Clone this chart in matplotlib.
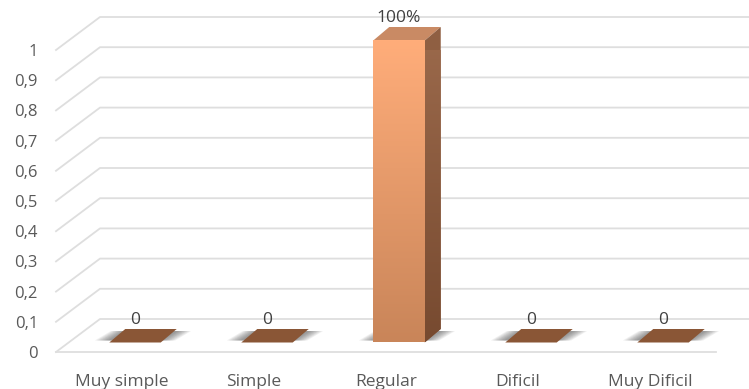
import matplotlib
matplotlib.use("Agg")
import matplotlib.pyplot as plt
import matplotlib.transforms as mtrans
from matplotlib.colors import LinearSegmentedColormap
import numpy as np

plt.rcParams['font.family'] = ['Open Sans', 'DejaVu Sans']

# data
categories = ["Muy simple", "Simple", "Regular", "Dificil", "Muy Dificil"]
values = [0, 0, 1, 0, 0]
value_labels = ["0", "0", "100%", "0", "0"]
y_ticks = [0, 0.1, 0.2, 0.3, 0.4, 0.5, 0.6, 0.7, 0.8, 0.9, 1]
y_tick_labels = ["0", "0,1", "0,2", "0,3", "0,4", "0,5", "0,6", "0,7", "0,8", "0,9", "1"]

W, H = 749, 389
fig = plt.figure(figsize=(W / 100, H / 100), dpi=100)
# front plane of the 3D box
ax = fig.add_axes([56 / W, (H - 352) / H, 660 / W, 302 / H])
ax.set_xlim(-0.5, 4.5)
ax.set_ylim(0, 1)


def shifted(dx, dy):
    # same data scale, moved back into the fake depth (pixels)
    return ax.transData + mtrans.Affine2D().translate(dx, dy)


back = shifted(44, 33)
bar_front = shifted(13, 9.5)
bar_back = shifted(29, 23)
grid_col = "#dedede"

# gridlines: diagonal on the left wall + horizontal on the back wall
for v in y_ticks:
    p0 = ax.transData.transform((-0.5, v))
    p1 = back.transform((-0.5, v))
    p2 = (W + 5, p1[1])
    ax.plot([p0[0], p1[0], p2[0]], [p0[1], p1[1], p2[1]], color=grid_col, lw=1.3,
            transform=None, clip_on=False, zorder=1)
ax.plot([-0.5, 4.5], [0, 0], color=grid_col, lw=1.3, clip_on=False, zorder=1)

width = 0.39
for i, v in enumerate(values):
    x0, x1 = i - width / 2, i + width / 2

    # soft shadow on the floor
    for grow in np.linspace(0.01, 0.11, 10):
        a = bar_front.transform((x0 - grow, 0))
        b = bar_front.transform((x1 + grow, 0))
        c = bar_back.transform((x1 + grow, 0))
        d = bar_back.transform((x0 - grow, 0))
        ax.fill([a[0], b[0], c[0], d[0]], [a[1] + 2, b[1] + 2, c[1] - 2, d[1] - 2], color="#444444",
                alpha=0.07, lw=0, transform=None, clip_on=False, zorder=2)

    if v == 0:
        a = bar_front.transform((x0, 0))
        b = bar_front.transform((x1, 0))
        c = bar_back.transform((x1, 0))
        d = bar_back.transform((x0, 0))
        ax.fill([a[0], b[0], c[0], d[0]], [a[1], b[1], c[1], d[1]], color="#8a5636", lw=0,
                transform=None, clip_on=False, zorder=3)
    else:
        # top and side faces
        a = bar_front.transform((x0, v))
        b = bar_front.transform((x1, v))
        c = bar_back.transform((x1, v))
        d = bar_back.transform((x0, v))
        ax.fill([a[0], b[0], c[0], d[0]], [a[1], b[1], c[1], d[1]], color="#c98a64", lw=0,
                transform=None, clip_on=False, zorder=3)
        e = bar_front.transform((x1, 0))
        f = bar_back.transform((x1, 0))
        side = ax.fill([b[0], c[0], f[0], e[0]], [b[1], c[1], f[1], e[1]], color="#8f5f42", lw=0,
                       transform=None, clip_on=False, zorder=3)[0]
        grad = np.linspace(0, 1, 200).reshape(-1, 1)
        # side face gradient, clipped to its polygon
        im = ax.imshow(grad, cmap=LinearSegmentedColormap.from_list("s", ["#9c6a4c", "#774a30"]),
                       extent=[x1, x1 + 0.13, 0, v + 0.05], origin="upper", aspect="auto",
                       transform=bar_front, zorder=3.1)
        im.set_clip_path(side)
        # front face
        ax.bar(i, v, width=width, color="none", transform=bar_front, clip_on=False, zorder=3)
        ax.imshow(grad, cmap=LinearSegmentedColormap.from_list("f", ["#ffad7a", "#c98559"]),
                  extent=[x0, x1, 0, v], origin="upper", aspect="auto",
                  transform=bar_front, clip_on=False, zorder=3.2)

    ax.text(i, v, value_labels[i], transform=bar_front + mtrans.Affine2D().translate(0, 22),
            ha="center", va="center", fontsize=12.5, color="#404040", clip_on=False, zorder=5)

ax.set_xlim(-0.5, 4.5)
ax.set_ylim(0, 1)
ax.set_xticks(range(len(categories)))
ax.set_xticklabels(categories)
ax.set_yticks(y_ticks)
ax.set_yticklabels(y_tick_labels)
ax.tick_params(axis="x", length=0, pad=16, labelsize=12.5, labelcolor="#595959")
ax.tick_params(axis="y", length=0, pad=13, labelsize=12, labelcolor="#595959")
for s in ax.spines.values():
    s.set_visible(False)
ax.patch.set_alpha(0)

fig.savefig("out.png", dpi=100)
